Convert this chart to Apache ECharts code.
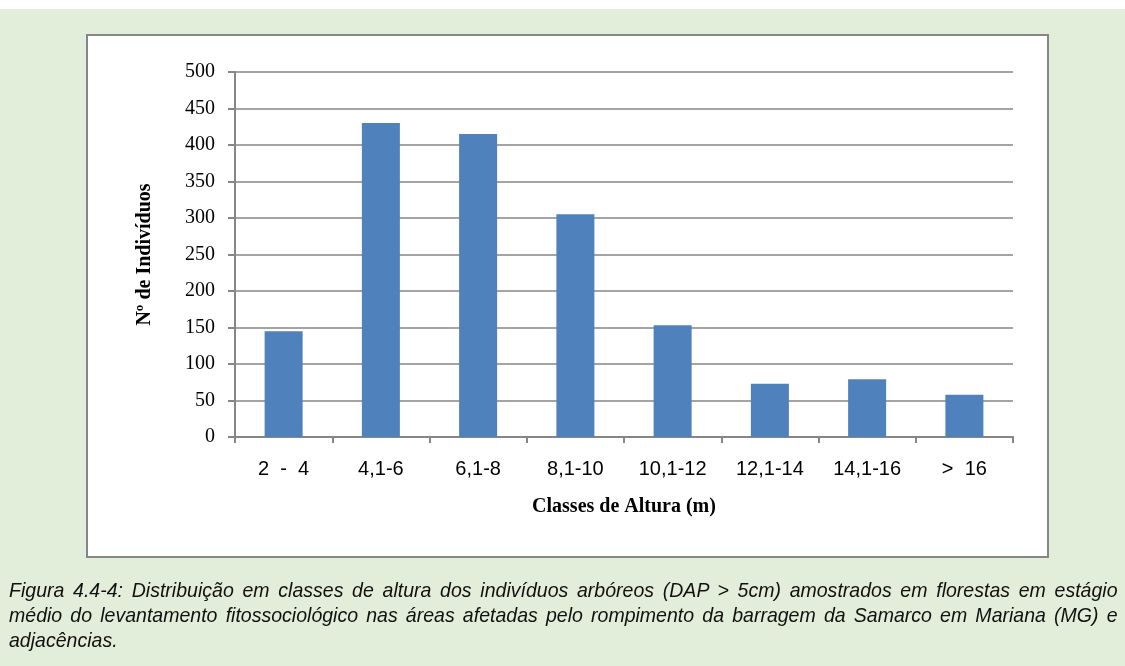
<!DOCTYPE html>
<html>
<head>
<meta charset="utf-8">
<script src="https://cdn.jsdelivr.net/npm/echarts@6/dist/echarts.min.js"></script>
<style>
  html, body { margin: 0; padding: 0; background: #ffffff; }
  #page { position: absolute; left: 0; top: 9px; width: 1125px; height: 657px; background: #e2eed9; }
  #chart { position: absolute; left: 0; top: 0; width: 1125px; height: 666px; }
  #caption {
    position: absolute; left: 9px; top: 577px; width: 1192px;
    transform: scaleX(0.93); transform-origin: 0 0;
    font-family: "Liberation Sans", sans-serif;
    font-style: italic; font-size: 21px; line-height: 25px; color: #111;
  }
  #caption div { white-space: nowrap; text-align: justify; text-align-last: justify; }
  #caption div.last { text-align-last: left; }
</style>
</head>
<body>
<div id="page"></div>
<div id="chart"></div>
<div id="caption">
  <div>Figura 4.4-4: Distribuição em classes de altura dos indivíduos arbóreos (DAP &gt; 5cm) amostrados em florestas em estágio</div>
  <div>médio do levantamento fitossociológico nas áreas afetadas pelo rompimento da barragem da Samarco em Mariana (MG) e</div>
  <div class="last">adjacências.</div>
</div>
<script>
// === Data === //
const classes = ['2  -  4', '4,1-6', '6,1-8', '8,1-10', '10,1-12', '12,1-14', '14,1-16', '>  16']
const individuos = [145, 430, 415, 305, 153, 73, 79, 58]

const gray = '#868686'
const chart = echarts.init(document.getElementById('chart'))

chart.setOption({
  animation: false,
  graphic: [
    {
      type: 'rect',
      z: -10,
      shape: { x: 87, y: 35, width: 961, height: 522 },
      style: { fill: '#ffffff', stroke: gray, lineWidth: 2 }
    }
  ],
  grid: { left: 235, right: 112, top: 72, bottom: 229 },
  xAxis: {
    type: 'category',
    data: classes,
    axisLine: { lineStyle: { color: gray, width: 2 } },
    axisTick: { show: true, length: 6, lineStyle: { color: gray, width: 2 } },
    axisLabel: {
      color: '#000',
      fontFamily: 'Liberation Sans',
      fontSize: 20,
      margin: 22
    },
    name: 'Classes de Altura (m)',
    nameLocation: 'middle',
    nameGap: 60,
    nameTextStyle: {
      color: '#000',
      fontFamily: 'Liberation Serif',
      fontWeight: 'bold',
      fontSize: 20
    }
  },
  yAxis: {
    type: 'value',
    min: 0,
    max: 500,
    interval: 50,
    axisLine: { show: true, lineStyle: { color: gray, width: 2 } },
    axisTick: { show: true, length: 7, lineStyle: { color: gray, width: 2 } },
    splitLine: { lineStyle: { color: gray, width: 1.5 } },
    axisLabel: {
      color: '#000',
      fontFamily: 'Liberation Serif',
      fontSize: 20,
      margin: 20
    },
    name: 'Nº de Indivíduos',
    nameLocation: 'middle',
    nameGap: 80,
    nameRotate: 90,
    nameTextStyle: {
      color: '#000',
      fontFamily: 'Liberation Serif',
      fontWeight: 'bold',
      fontSize: 20
    }
  },
  series: [
    {
      type: 'bar',
      data: individuos,
      barWidth: 38,
      itemStyle: { color: '#4f81bd' }
    }
  ]
})
</script>
</body>
</html>
